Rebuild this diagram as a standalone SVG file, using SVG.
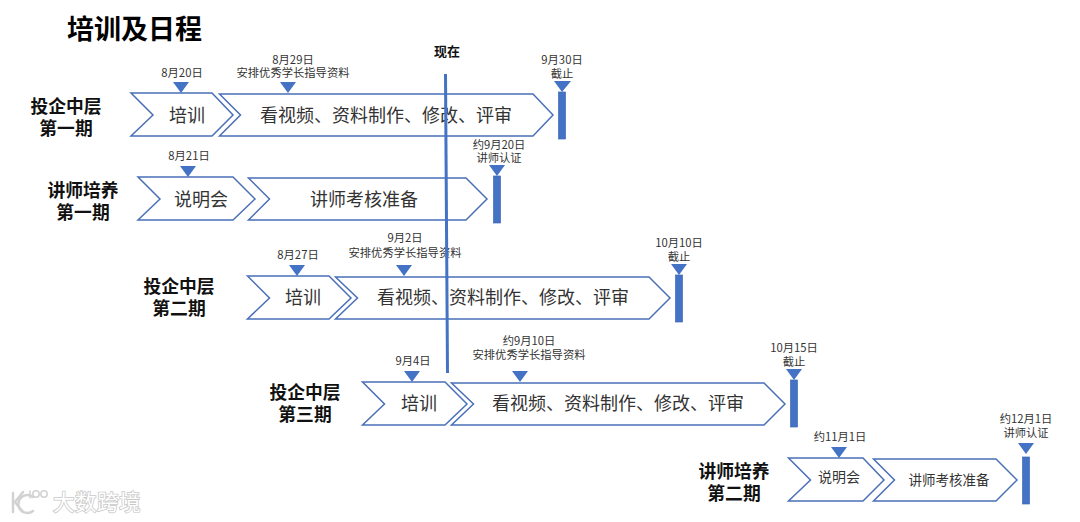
<svg xmlns="http://www.w3.org/2000/svg" width="1080" height="522" viewBox="0 0 1080 522">
<style>
text{font-family:"Noto Sans CJK SC","Liberation Sans",sans-serif;text-anchor:middle;fill:#222}
.c{fill:#fff;stroke:#4a70b8;stroke-width:1.5}
.m{fill:#4472c4}
.b{fill:#4472c4;stroke:#3f69b4;stroke-width:.7}
.t{font-size:18px;fill:#333}
.s{font-size:11.300px;fill:#333}
.h{font-size:17.800px;font-weight:700;fill:#111}
.wm{font-size:21.500px;fill:#fff;stroke:#c9c9c9;stroke-width:1.6;paint-order:stroke;font-weight:400}
</style>
<rect width="1080" height="522" fill="#fff"/>
<text x="134.500" y="39" style="font-size:27px;font-weight:700;fill:#000">培训及日程</text>
<text x="447" y="56" style="font-size:13px;font-weight:700;fill:#111">现在</text>
<g id="row1">
<text class="h" x="66" y="113">投企中层</text><text class="h" x="66" y="135">第一期</text>
<g id="r1-a"><polygon class="c" points="131,93 212,93 233,115 212,136 131,136 153,115"/><text class="t" x="187" y="122">培训</text></g>
<g id="r1-b"><polygon class="c" points="219.500,94 533,94 553,115 533,136 219.500,136 240.500,115"/><text class="t" x="386" y="122">看视频、资料制作、修改、评审</text></g>
<g id="r1-m1"><text class="s" x="182" y="77">8月20日</text><polygon class="m" points="173,82 189,82 181,93"/></g>
<g id="r1-m2"><text class="s" x="293" y="64">8月29日</text><text class="s" x="293" y="77">安排优秀学长指导资料</text><polygon class="m" points="280,82 296,82 288,93"/></g>
<g id="r1-e"><text class="s" x="562" y="64">9月30日</text><text class="s" x="562" y="78">截止</text><polygon class="m" points="554,81 571,81 562,92"/><rect class="b" x="558.500" y="92" width="7" height="47"/></g>
</g>
<g id="row2">
<text class="h" x="83" y="197">讲师培养</text><text class="h" x="83" y="219">第一期</text>
<g id="r2-a"><polygon class="c" points="138,177 233,177 255,199 233,220 138,220 160,199"/><text class="t" x="201" y="206">说明会</text></g>
<g id="r2-b"><polygon class="c" points="248.500,178 466,178 487,199 466,220 248.500,220 269.500,199"/><text class="t" x="364" y="206">讲师考核准备</text></g>
<g id="r2-m1"><text class="s" x="189" y="160">8月21日</text><polygon class="m" points="180,166 196,166 188,177"/></g>
<g id="r2-e"><text class="s" x="499" y="149">约9月20日</text><text class="s" x="499" y="162">讲师认证</text><polygon class="m" points="489,165 505,165 497,176"/><rect class="b" x="493.500" y="176" width="7" height="47"/></g>
</g>
<g id="row3">
<text class="h" x="179" y="293">投企中层</text><text class="h" x="179" y="315">第二期</text>
<g id="r3-a"><polygon class="c" points="247.500,276 329,276 351,298 329,319 247.500,319 269.500,298"/><text class="t" x="303" y="304">培训</text></g>
<g id="r3-b"><polygon class="c" points="335.500,277 649,277 670,298 649,319 335.500,319 357.500,298"/><text class="t" x="503" y="304">看视频、资料制作、修改、评审</text></g>
<g id="r3-m1"><text class="s" x="298" y="259">8月27日</text><polygon class="m" points="289,265 305,265 297,276"/></g>
<g id="r3-m2"><text class="s" x="405" y="242">9月2日</text><text class="s" x="405" y="257">安排优秀学长指导资料</text><polygon class="m" points="396,265 412,265 404,276"/></g>
<g id="r3-e"><text class="s" x="679" y="247">10月10日</text><text class="s" x="679" y="261">截止</text><polygon class="m" points="671,264 687,264 679,275"/><rect class="b" x="675.500" y="275" width="7" height="47"/></g>
</g>
<g id="row4">
<text class="h" x="305" y="399">投企中层</text><text class="h" x="305" y="421">第三期</text>
<g id="r4-a"><polygon class="c" points="362.500,382 445,382 467,404 445,425 362.500,425 384.500,404"/><text class="t" x="419" y="410">培训</text></g>
<g id="r4-b"><polygon class="c" points="451.500,383 764,383 785,404 764,425 451.500,425 473.500,404"/><text class="t" x="618" y="410">看视频、资料制作、修改、评审</text></g>
<g id="r4-m1"><text class="s" x="413" y="365">9月4日</text><polygon class="m" points="404,371 420,371 412,382"/></g>
<g id="r4-m2"><text class="s" x="529" y="345">约9月10日</text><text class="s" x="529" y="359">安排优秀学长指导资料</text><polygon class="m" points="512,371 528,371 520,382"/></g>
<g id="r4-e"><text class="s" x="794" y="352">10月15日</text><text class="s" x="794" y="366">截止</text><polygon class="m" points="786,369 802,369 794,380"/><rect class="b" x="790.500" y="380" width="7" height="47"/></g>
</g>
<g id="row5">
<text class="h" x="734" y="478">讲师培养</text><text class="h" x="734" y="500">第二期</text>
<g id="r5-a"><polygon class="c" points="788.500,458 863,458 884,480 863,501 788.500,501 810.500,480"/><text class="s" style="font-size:14px" x="839" y="482">说明会</text></g>
<g id="r5-b"><polygon class="c" points="873.500,459 996,459 1017,480 996,501 873.500,501 894.500,480"/><text class="s" style="font-size:13.500px" x="949" y="485">讲师考核准备</text></g>
<g id="r5-m1"><text class="s" x="840" y="441">约11月1日</text><polygon class="m" points="831,447 847,447 839,458"/></g>
<g id="r5-e"><text class="s" x="1026" y="423">约12月1日</text><text class="s" x="1026" y="437">讲师认证</text><polygon class="m" points="1018,443 1034,443 1026,454"/><rect class="b" x="1022.500" y="457" width="7" height="47"/></g>
</g>
<g id="connectors"><line x1="445.500" y1="74" x2="447.500" y2="373" stroke="#4472c4" stroke-width="3"/></g>
<g id="watermark" fill="none" stroke="#d2d2d2" stroke-width="2.500" stroke-linecap="round">
<path d="M13 493V512M23 492L15 502L23 512"/><path d="M33 497A9 9 0 1 0 33 511" />
<path d="M30 491V498" stroke-width="1.500"/><circle cx="36" cy="494" r="3.200" stroke-width="1.500"/><circle cx="44" cy="494" r="3.200" stroke-width="1.500"/>
<text class="wm" x="97" y="510" style="letter-spacing:.5px">大数跨境</text>
</g>
</svg>
